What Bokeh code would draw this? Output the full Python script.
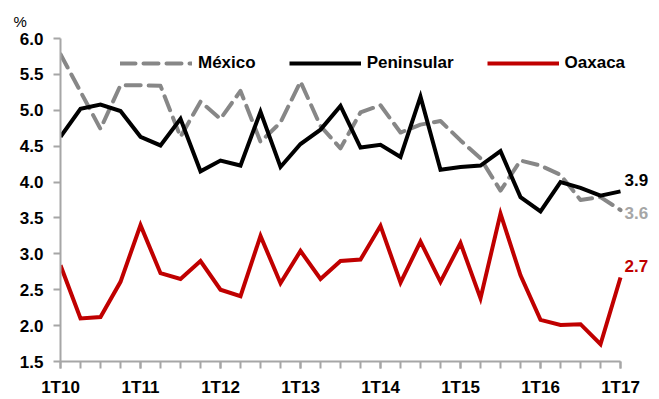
from bokeh.plotting import figure
from bokeh.models import (Range1d, FixedTicker, Legend, LegendItem, Label,
                          NumeralTickFormatter)
from bokeh.embed import file_html
from bokeh.resources import INLINE

# Quarterly series, 1T10 .. 1T17 (percent)
quarters = [f"{q}T{y:02d}" for y in range(10, 18) for q in range(1, 5)][:29]
tick_labels = ["1T10", "1T11", "1T12", "1T13", "1T14", "1T15", "1T16", "1T17"]

mexico = [5.78, 5.26, 4.74, 5.35, 5.35, 5.34, 4.63, 5.12, 4.88, 5.27,
          4.56, 4.83, 5.40, 4.78, 4.47, 4.97, 5.07, 4.69, 4.80, 4.85,
          4.58, 4.33, 3.88, 4.30, 4.23, 4.10, 3.75, 3.79, 3.61]
peninsular = [4.63, 5.02, 5.08, 4.99, 4.63, 4.51, 4.88, 4.15, 4.30, 4.23,
              4.98, 4.21, 4.53, 4.73, 5.06, 4.48, 4.52, 4.35, 5.19, 4.17,
              4.21, 4.23, 4.43, 3.79, 3.59, 4.00, 3.92, 3.81, 3.87]
oaxaca = [2.84, 2.10, 2.12, 2.61, 3.40, 2.73, 2.65, 2.90, 2.50, 2.41,
          3.25, 2.59, 3.04, 2.65, 2.90, 2.92, 3.39, 2.60, 3.17, 2.61,
          3.15, 2.38, 3.56, 2.70, 2.08, 2.01, 2.02, 1.74, 2.67]

xs = list(range(len(quarters)))
last = len(xs) - 1

FONT = "Liberation Sans"
AXIS_GREY = "#a6a6a6"
GREY = "#878787"
RED = "#c00000"

# the x range runs past the last quarter to leave room for the end labels;
# the axis line itself stops at the last quarter (bounds)
p = figure(width=659, height=399, output_backend="svg", toolbar_location=None,
           x_range=Range1d(0, 29.95), y_range=Range1d(1.5, 6.0),
           min_border_left=60, min_border_right=0, min_border_top=38,
           min_border_bottom=37, outline_line_color=None)
p.grid.visible = False
p.background_fill_color = "white"
p.border_fill_color = "white"

# unit shown above the value axis
p.title.text = "%"
p.title.align = "left"
p.title.offset = -47
p.title.standoff = 17
p.title.text_font = FONT
p.title.text_font_style = "normal"
p.title.text_font_size = "15px"
p.title.text_color = "black"

r_mex = p.line(xs, mexico, line_color=GREY, line_width=4, line_dash="15 8",
               line_cap="round", line_join="round")
r_pen = p.line(xs, peninsular, line_color="black", line_width=4,
               line_join="miter")
r_oax = p.line(xs, oaxaca, line_color=RED, line_width=4, line_join="miter")

# x axis: a tick every quarter, a label every first quarter
xa = p.xaxis[0]
xa.ticker = FixedTicker(ticks=list(range(0, 29, 4)), minor_ticks=xs)
xa.major_label_overrides = {i * 4: t for i, t in enumerate(tick_labels)}
xa.major_label_standoff = 9
xa.bounds = (0, last)

ya = p.yaxis[0]
ya.ticker = FixedTicker(ticks=[1.5 + 0.5 * i for i in range(10)])
ya.formatter = NumeralTickFormatter(format="0.0")
ya.major_label_standoff = 10
ya.minor_tick_line_color = None

for ax in (xa, ya):
    ax.axis_line_color = AXIS_GREY
    ax.axis_line_width = 2
    ax.major_tick_line_color = AXIS_GREY
    ax.major_tick_line_width = 2
    ax.major_tick_out = 7
    ax.major_tick_in = 0
    ax.major_label_text_font = FONT
    ax.major_label_text_font_style = "bold"
    ax.major_label_text_font_size = "17px"
    ax.major_label_text_color = "black"
xa.minor_tick_line_color = AXIS_GREY
xa.minor_tick_line_width = 2
xa.minor_tick_out = 7
xa.minor_tick_in = 0

legend = Legend(items=[LegendItem(label="México", renderers=[r_mex]),
                       LegendItem(label="Peninsular", renderers=[r_pen]),
                       LegendItem(label="Oaxaca", renderers=[r_oax])],
                orientation="horizontal", location=(60, 288),
                glyph_width=72, glyph_height=18, label_height=18,
                label_standoff=6, spacing=33, padding=0, margin=0,
                border_line_color=None, background_fill_alpha=0,
                label_text_font=FONT, label_text_font_style="bold",
                label_text_font_size="17px", label_text_color="black")
p.add_layout(legend)

# end-of-series value labels
for series, color, dy in ((peninsular, "black", 11),
                          (mexico, "#a6a6a6", -3),
                          (oaxaca, RED, 12)):
    p.add_layout(Label(x=last, y=series[-1], text=f"{series[-1]:.1f}",
                       x_offset=4, y_offset=dy, text_baseline="middle",
                       text_align="left", text_font=FONT,
                       text_font_style="bold", text_font_size="17px",
                       text_color=color))

open("out.html", "w").write(file_html(p, INLINE))
